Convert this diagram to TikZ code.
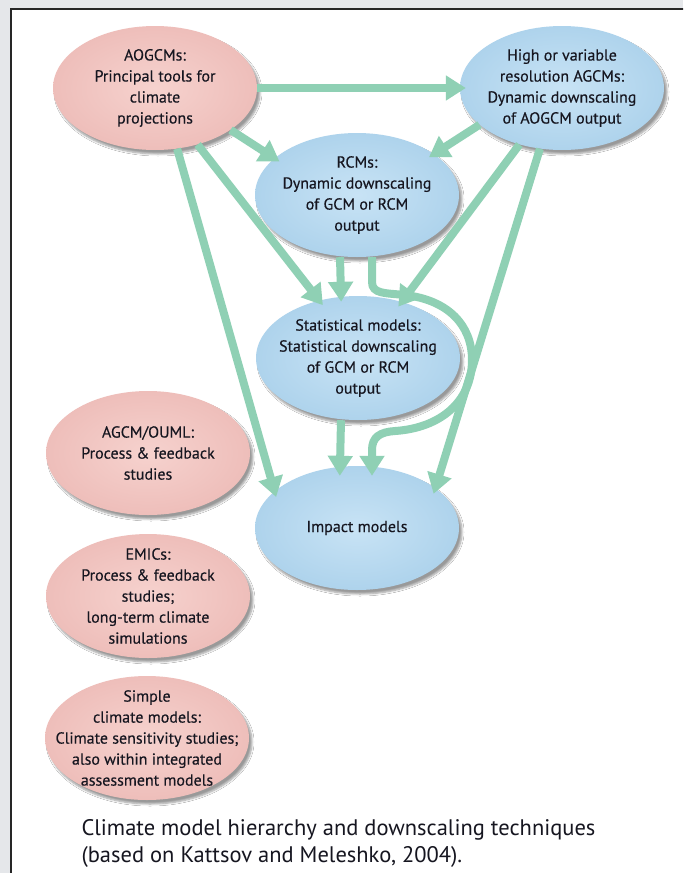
\documentclass[tikz,border=0pt]{standalone}
\usepackage{fontspec}
\setmainfont{PT Sans}
\newfontfamily\modelfont{PT Sans}[FakeBold=0.35]
\usetikzlibrary{shapes.geometric,arrows.meta,shadows.blur}

\definecolor{panelgray}{RGB}{229,231,234}
\definecolor{pinkin}{RGB}{246,210,206}
\definecolor{pinkout}{RGB}{238,190,186}
\definecolor{bluein}{RGB}{200,227,245}
\definecolor{blueout}{RGB}{174,211,236}
\definecolor{mint}{RGB}{143,208,180}
\definecolor{inkdark}{RGB}{22,22,32}

\tikzset{
  model/.style={ellipse, inner xsep=-25pt, inner ysep=-10pt, minimum width=204pt, minimum height=124pt,
    align=center, text=inkdark, font=\modelfont\fontsize{16}{21}\selectfont,
    blur shadow={shadow xshift=3pt, shadow yshift=-4pt, shadow blur steps=6, shadow opacity=40}},
  global/.style={model, inner color=pinkin, outer color=pinkout},
  regional/.style={model, inner color=bluein, outer color=blueout},
  flow/.style={draw=mint, line width=8pt, -{Triangle[width=24pt,length=20pt]}, shorten >=-6pt},
}

\begin{document}
\begin{tikzpicture}[x=1pt,y=-1pt]

        \useasboundingbox (0,0) rectangle (683,873);
        \clip (0,0) rectangle (683,873);
        \fill[panelgray] (0,0) rectangle (683,873);
        \filldraw[fill=white, draw=black!85, line width=1.2pt] (11,9) rectangle (700,890);

        \begin{scope}[every node/.style={global}]
          \node (aogcm)  at (155,88)  {AOGCMs:\\Principal tools for\\climate\\projections};
          \node (agcm)   at (148,453) {AGCM/OUML:\\Process \& feedback\\studies};
          \node (emic)   at (148,596) {EMICs:\\Process \& feedback\\studies;\\long-term climate\\simulations};
          \node (simple) at (147,738) {Simple\\climate models:\\Climate sensitivity studies;\\also within integrated\\assessment models};
        \end{scope}

        \begin{scope}[every node/.style={regional}]
          \node (hires)  at (562,88)  {High or variable\\resolution AGCMs:\\Dynamic downscaling\\of AOGCM output};
          \node (rcm)    at (357,195) {RCMs:\\Dynamic downscaling\\of GCM or RCM\\output};
          \node (stat)   at (358,358) {Statistical models:\\Statistical downscaling\\of GCM or RCM\\output};
          \node (impact) at (357,528) {Impact models};
        \end{scope}

        \begin{scope}[every edge/.style={flow}]
          \path (aogcm.east) edge (hires.west);
          \path (aogcm.331)  edge (rcm.156);
          \path (aogcm.307)  edge (stat.124);
          \path (aogcm.290)  edge (impact.156);
          \path (hires.204)  edge (rcm.28);
          \path (hires.233)  edge (stat.52);
          \path (hires.250)  edge (impact.27);
          \path ([xshift=-17pt]rcm.south)  edge ([xshift=-17pt]stat.north);
          \path ([xshift=-17pt]stat.south) edge[shorten >=-10pt] ([xshift=-17pt]impact.north);
        \end{scope}

        % RCM output round the statistical models
        \draw[flow, shorten >=-10pt] ([xshift=15pt]rcm.south) -- (372,282)
          .. controls (372,294) and (385,293) .. (405,295)
          .. controls (448,300) and (472,325) .. (472,360)
          .. controls (472,402) and (440,428) .. (395,431)
          .. controls (380,432) and (372,437) .. (372,450)
          -- ([xshift=15pt]impact.north);

        \node[anchor=west, align=left, text=inkdark, font=\fontsize{22.5}{27}\selectfont] (caption) at (78,843.5)
          {Climate model hierarchy and downscaling techniques\\(based on Kattsov and Meleshko, 2004).};

      \end{tikzpicture}
\end{document}
